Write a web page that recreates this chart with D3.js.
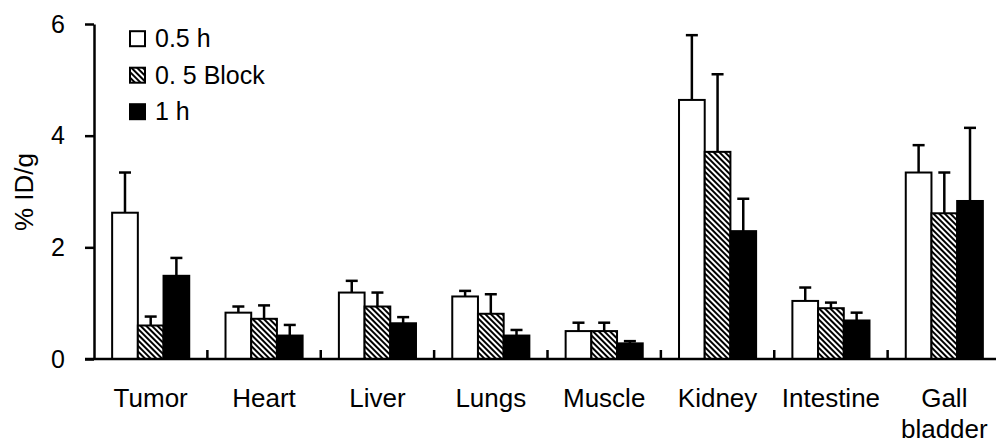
<!DOCTYPE html>
<html>
<head>
<meta charset="utf-8">
<script src="https://cdn.jsdelivr.net/npm/d3@7/dist/d3.min.js"></script>
<style>
  html, body { margin: 0; padding: 0; background: #fff; }
  svg { display: block; }
  text { font-family: "Liberation Sans", Arial, Helvetica, sans-serif; fill: #000; }
</style>
</head>
<body>
<svg id="chart" width="996" height="445"></svg>
<script>
// ---- data ----
const categories = ["Tumor", "Heart", "Liver", "Lungs", "Muscle", "Kidney", "Intestine", "Gall bladder"];
const series = ["0.5 h", "0. 5 Block", "1 h"];
const values_05h   = [2.62, 0.83, 1.19, 1.12, 0.50, 4.64, 1.04, 3.34];
const values_block = [0.60, 0.72, 0.94, 0.81, 0.50, 3.71, 0.91, 2.61];
const values_1h    = [1.49, 0.42, 0.64, 0.42, 0.28, 2.29, 0.69, 2.83];
const err_05h      = [0.72, 0.11, 0.21, 0.10, 0.15, 1.16, 0.24, 0.49];
const err_block    = [0.16, 0.24, 0.25, 0.35, 0.15, 1.39, 0.10, 0.73];
const err_1h       = [0.32, 0.19, 0.11, 0.10, 0.04, 0.58, 0.14, 1.31];
const yTicks = [0, 2, 4, 6];
const yLabel = "% ID/g";

const seriesValues = [values_05h, values_block, values_1h];
const seriesErrors = [err_05h, err_block, err_1h];

// ---- layout ----
const svg = d3.select("#chart");
const mLeft = 94, mRight = 1001, mTop = 24, mBottom = 359;

const x0 = d3.scaleBand().domain(categories).range([mLeft, mRight]).paddingInner(0).paddingOuter(0);
const bw = x0.bandwidth();
const x1 = d3.scaleBand().domain(series).range([bw * 0.16, bw * 0.84]).padding(0);
const y = d3.scaleLinear().domain([0, 6]).range([mBottom, mTop]);

// hatch pattern
const defs = svg.append("defs");
const pat = defs.append("pattern")
  .attr("id", "hatch")
  .attr("patternUnits", "userSpaceOnUse")
  .attr("width", 4.0).attr("height", 4.0)
  .attr("patternTransform", "rotate(-45)");
pat.append("rect").attr("width", 4.0).attr("height", 4.0).attr("fill", "#fff");
pat.append("rect").attr("width", 2.0).attr("height", 4.0).attr("fill", "#000");

const fills = ["#fff", "url(#hatch)", "#000"];

// data table
const rows = [];
categories.forEach((c, i) => {
  series.forEach((s, j) => {
    rows.push({ cat: c, ser: s, j: j, v: seriesValues[j][i], e: seriesErrors[j][i] });
  });
});

// error bars
const eg = svg.append("g");
rows.forEach(d => {
  const cx = x0(d.cat) + x1(d.ser) + x1.bandwidth() / 2;
  eg.append("line")
    .attr("x1", cx).attr("x2", cx)
    .attr("y1", y(d.v)).attr("y2", y(d.v + d.e))
    .attr("stroke", "#000").attr("stroke-width", 2.5);
  eg.append("line")
    .attr("x1", cx - 6).attr("x2", cx + 6)
    .attr("y1", y(d.v + d.e)).attr("y2", y(d.v + d.e))
    .attr("stroke", "#000").attr("stroke-width", 2.5);
});

// bars
svg.append("g").selectAll("rect")
  .data(rows)
  .join("rect")
  .attr("x", d => x0(d.cat) + x1(d.ser))
  .attr("y", d => y(d.v))
  .attr("width", x1.bandwidth())
  .attr("height", d => y(0) - y(d.v))
  .attr("fill", d => fills[d.j])
  .attr("stroke", "#000")
  .attr("stroke-width", 2);

// y axis
const yAxis = d3.axisLeft(y).tickValues(yTicks).tickSize(9).tickSizeOuter(0).tickPadding(20)
  .tickFormat(d3.format("d"));
const yg = svg.append("g").attr("transform", `translate(${mLeft},0)`).call(yAxis);
yg.attr("font-family", null).attr("font-size", null);
yg.select(".domain").attr("stroke", "#000").attr("stroke-width", 2.5);
yg.selectAll(".tick line").attr("stroke", "#000").attr("stroke-width", 2.5);
yg.selectAll(".tick text").style("font-size", "25px").attr("fill", "#000");

// x axis line
svg.append("line")
  .attr("x1", mLeft - 9).attr("x2", 996)
  .attr("y1", y(0)).attr("y2", y(0))
  .attr("stroke", "#000").attr("stroke-width", 2.5);

// category boundary ticks (pointing up)
svg.append("g").selectAll("line")
  .data(categories)
  .join("line")
  .attr("x1", d => x0(d) + bw).attr("x2", d => x0(d) + bw)
  .attr("y1", y(0)).attr("y2", y(0) - 9)
  .attr("stroke", "#000").attr("stroke-width", 2.5);

// category labels
const cl = svg.append("g").selectAll("text")
  .data(categories)
  .join("text")
  .attr("text-anchor", "middle")
  .style("font-size", "26px")
  .attr("x", d => x0(d) + bw / 2)
  .attr("y", 407);
cl.each(function(d) {
  const parts = d.split(" ");
  const t = d3.select(this);
  parts.forEach((p, k) => {
    t.append("tspan").attr("x", x0(d) + bw / 2).attr("dy", k === 0 ? 0 : 31).text(p);
  });
});

// y label
svg.append("text")
  .attr("transform", `translate(33,192) rotate(-90)`)
  .attr("text-anchor", "middle")
  .style("font-size", "26px")
  .text(yLabel);

// legend
const lg = svg.append("g");
series.forEach((s, j) => {
  const cy = 38.7 + j * 36.5;
  lg.append("rect")
    .attr("x", 130).attr("y", cy - 7.5)
    .attr("width", 15).attr("height", 15)
    .attr("fill", fills[j]).attr("stroke", "#000").attr("stroke-width", 2);
  lg.append("text")
    .attr("x", 155).attr("y", cy + 8.5)
    .style("font-size", "25px")
    .text(s);
});
</script>
</body>
</html>
